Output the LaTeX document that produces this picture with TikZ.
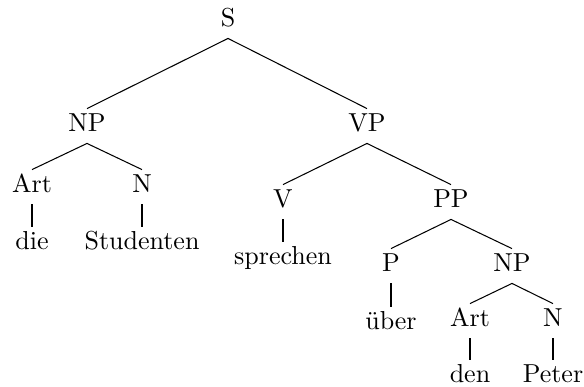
\documentclass[tikz,border=0pt]{standalone}
\begin{document}
\begin{tikzpicture}[x=0.3846pt,y=-0.3846pt,
  lbl/.style={anchor=base,inner sep=0pt,text height=8.8pt,text depth=4.2pt},
  edge/.style={draw=black,line width=0.4pt}]
\useasboundingbox (0,0) rectangle (584,387);
\node[lbl] (S) at (228,27) {S};
\node[lbl] (NP1) at (87,132) {NP};
\node[lbl] (VP) at (367,132) {VP};
\node[lbl] (Art1) at (32,193) {Art};
\node[lbl] (N1) at (142,193) {N};
\node[lbl] (die) at (32,250) {die};
\node[lbl] (Stud) at (142,250) {Studenten};
\node[lbl] (V) at (283,208) {V};
\node[lbl] (PP) at (451,208) {PP};
\node[lbl] (spr) at (283,265) {sprechen};
\node[lbl] (P) at (391,272) {P};
\node[lbl] (NP2) at (512,272) {NP};
\node[lbl] (ueber) at (391,330) {über};
\node[lbl] (Art2) at (470,327) {Art};
\node[lbl] (N2) at (553,327) {N};
\node[lbl] (den) at (470,383) {den};
\node[lbl] (Peter) at (553,383) {Peter};
\draw[edge] (S.south) -- (NP1.north);
\draw[edge] (S.south) -- (VP.north);
\draw[edge] (NP1.south) -- (Art1.north);
\draw[edge] (NP1.south) -- (N1.north);
\draw[edge] (Art1.south) -- (die.north);
\draw[edge] (N1.south) -- (Stud.north);
\draw[edge] (VP.south) -- (V.north);
\draw[edge] (VP.south) -- (PP.north);
\draw[edge] (V.south) -- (spr.north);
\draw[edge] (PP.south) -- (P.north);
\draw[edge] (PP.south) -- (NP2.north);
\draw[edge] (P.south) -- (ueber.north);
\draw[edge] (NP2.south) -- (Art2.north);
\draw[edge] (NP2.south) -- (N2.north);
\draw[edge] (Art2.south) -- (den.north);
\draw[edge] (N2.south) -- (Peter.north);
\end{tikzpicture}
\end{document}
